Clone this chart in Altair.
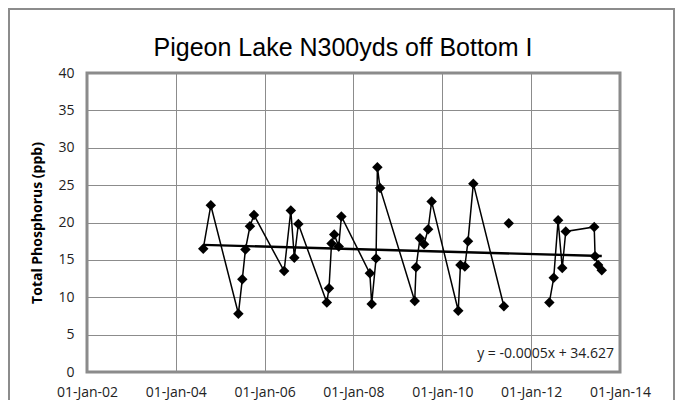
import altair as alt
import pandas as pd

dates = [
    "2004-08-14", "2004-10-15", "2005-05-30", "2005-07-01", "2005-07-27", "2005-09-02", "2005-10-05",
    "2006-06-10", "2006-08-04", "2006-09-02", "2006-10-05",
    "2007-05-27", "2007-06-14", "2007-07-05", "2007-07-27", "2007-09-02", "2007-09-24",
    "2008-05-15", "2008-05-30", "2008-07-05", "2008-07-16", "2008-08-07",
    "2009-05-19", "2009-05-30", "2009-07-01", "2009-08-04", "2009-09-06", "2009-10-05",
    "2010-05-12", "2010-05-30", "2010-07-05", "2010-07-31", "2010-09-13",
    "2011-05-22", "2011-07-01",
    "2012-05-30", "2012-07-05", "2012-08-10", "2012-09-13", "2012-10-12",
    "2013-06-03", "2013-06-10", "2013-07-05", "2013-08-04",
]
values = [
    16.5, 22.3, 7.8, 12.4, 16.4, 19.5, 21.0,
    13.5, 21.6, 15.3, 19.8,
    9.3, 11.2, 17.2, 18.4, 16.8, 20.8,
    13.2, 9.1, 15.2, 27.4, 24.6,
    9.5, 14.0, 17.9, 17.1, 19.1, 22.8,
    8.2, 14.3, 14.1, 17.5, 25.2,
    8.8, 19.9,
    9.3, 12.6, 20.3, 13.9, 18.8,
    19.4, 15.5, 14.3, 13.6,
]
# line segments (blank cells in the source break the line)
segments = [1] * 34 + [2] + [3] * 9

title_text = ["Pigeon Lake N300yds off Bottom I"]
y_title = "Total Phosphorus (ppb)"
equation = ["y = -0.0005x + 34.627"]
x_tick_years = [2002, 2004, 2006, 2008, 2010, 2012, 2014]
y_ticks = [0, 5, 10, 15, 20, 25, 30, 35, 40]

df = pd.DataFrame({"date": pd.to_datetime(dates), "value": values, "seg": segments})

x_enc = alt.X(
    "date:T",
    scale=alt.Scale(domain=[alt.DateTime(year=2002, month=1, date=1),
                            alt.DateTime(year=2014, month=1, date=1)]),
    axis=alt.Axis(
        values=[alt.DateTime(year=y, month=1, date=1) for y in x_tick_years],
        format="%d-%b-%y", title=None, labelPadding=13, tickSize=0, ticks=False,
        domain=False, labelFont="Open Sans", labelFontSize=14, labelColor="#222222",
        labelOverlap=False, labelFlush=False, labelAlign="center",
        gridColor="#8c8c8c", gridWidth=1,
    ),
)
y_enc = alt.Y(
    "value:Q",
    scale=alt.Scale(domain=[0, 40], nice=False),
    axis=alt.Axis(
        values=y_ticks, title=y_title,
        titleFont="Open Sans", titleFontSize=14, titleFontWeight="bold",
        titleColor="#000000", titlePadding=13,
        labelPadding=13, tickSize=0, ticks=False, domain=False,
        labelFont="Open Sans", labelFontSize=14, labelColor="#222222",
        labelOverlap=False, labelFlush=False,
        gridColor="#8c8c8c", gridWidth=1,
    ),
)

base = alt.Chart(df)

lines = base.mark_line(color="black", strokeWidth=1.5).encode(
    x=x_enc, y=y_enc, detail="seg:N"
)
points = base.mark_point(shape="diamond", filled=True, size=110, color="black", opacity=1).encode(
    x=x_enc, y=y_enc
)
trend = base.transform_regression("date", "value").mark_line(
    color="black", strokeWidth=2.4
).encode(x=x_enc, y=y_enc)

eq = alt.Chart(pd.DataFrame({"t": equation})).mark_text(
    align="right", baseline="middle", font="Open Sans", fontSize=14, color="#222222"
).encode(x=alt.value(527), y=alt.value(281), text="t:N")

title = alt.Chart(pd.DataFrame({"t": title_text})).mark_text(
    align="center", baseline="alphabetic", font="Liberation Sans", fontSize=25, color="#000000"
).encode(x=alt.value(256), y=alt.value(-17), text="t:N")

one = pd.DataFrame({"a": [0]})
frame_right = alt.Chart(one).mark_rule(color="#8c8c8c", strokeWidth=2).encode(
    x=alt.value(587), y=alt.value(-66), y2=alt.value(330)
)
frame_top = alt.Chart(one).mark_rule(color="#8c8c8c", strokeWidth=2).encode(
    x=alt.value(-80), x2=alt.value(588), y=alt.value(-64)
)
frame_left = alt.Chart(one).mark_rule(color="#8c8c8c", strokeWidth=2).encode(
    x=alt.value(-78), y=alt.value(-66), y2=alt.value(330)
)

chart = alt.layer(lines, trend, points, eq, title, frame_right, frame_top, frame_left).properties(
    width=533, height=299,
    autosize=alt.AutoSizeParams(type="none"),
    padding={"left": 79, "top": 65, "right": 58, "bottom": 28},
    background="white",
).configure_view(stroke="#8a8a8a", strokeWidth=3)

chart.save("out.html", embed_options={"renderer": "svg", "actions": False})
